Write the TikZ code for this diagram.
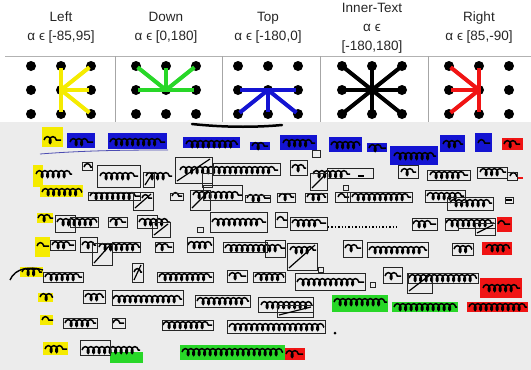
\documentclass[tikz,border=0pt]{standalone}
\usepackage{fontspec}
\setmainfont{Liberation Sans}
\usetikzlibrary{decorations.pathmorphing}

\definecolor{rayyellow}{RGB}{245,235,0}
\definecolor{raygreen}{RGB}{40,215,40}
\definecolor{rayblue}{RGB}{20,20,210}
\definecolor{rayred}{RGB}{240,20,20}
\definecolor{paper}{RGB}{236,236,236}

\tikzset{
    dot/.style={circle, fill=black, inner sep=0pt, minimum size=10pt},
    ray/.style={line width=4pt, shorten >=2pt},
    head/.style={align=center, font=\fontsize{13.5}{19}\selectfont, text=black!85},
    ink/.style={decorate, decoration={coil, amplitude=3.4pt, segment length=5.5pt, aspect=0.6}, line width=1.5pt, black},
    wbox/.style={draw=black!85, line width=0.8pt},
}

\begin{document}
\begin{tikzpicture}[x=1pt, y=-1pt]
    \useasboundingbox (0,0) rectangle (531,370);
    \fill[white] (0,0) rectangle (531,370);
    \node[head] (hL) at (61,28) {Left\\α ϵ [-85,95]};
    \node[head] (hD) at (166,28) {Down\\α ϵ [0,180]};
    \node[head] (hT) at (268,28) {Top\\α ϵ [-180,0]};
    \node[head] (hI) at (372,28) {Inner-Text\\α ϵ\\{[-180,180]}};
    \node[head] (hR) at (479,28) {Right\\α ϵ [85,-90]};
    \draw[gray!60] (5,56) -- (531,56);
    \foreach \x in {115,222,320,428} \draw[gray!70] (\x,56) -- (\x,122);
    \foreach \col/\cx in {L/61,D/166,T/268,I/372,R/479}
      \foreach \i in {0,1,2}
        \foreach \j in {0,1,2}
          \node[dot] (\col\i\j) at ({\cx+(\i-1)*30},{66+\j*24}) {};
    \foreach \i/\j in {1/0,2/0,2/1,2/2,1/2} \draw[ray, rayyellow] (L11.center) -- (L\i\j.center);
    \foreach \i/\j in {0/1,0/0,1/0,2/0,2/1} \draw[ray, raygreen] (D11.center) -- (D\i\j.center);
    \foreach \i/\j in {0/1,0/2,1/2,2/2,2/1} \draw[ray, rayblue] (T11.center) -- (T\i\j.center);
    \foreach \i/\j in {0/0,1/0,2/0,0/1,2/1,0/2,1/2,2/2} \draw[ray, black] (I11.center) -- (I\i\j.center);
    \foreach \i/\j in {1/0,0/0,0/1,0/2,1/2} \draw[ray, rayred] (R11.center) -- (R\i\j.center);
    % manuscript
    \fill[paper] (0,122) rectangle (531,370);
    \foreach \a/\b/\c/\d in {42/127/63/147, 33/165/43/187, 40/185/83/197, 37/213/53/223, 35/237/50/257,
        20/267/43/277, 38/293/53/302, 40/315/53/325, 43/342/68/355}
      \fill[rayyellow] (\a,\b) rectangle (\c,\d);
    \foreach \a/\b/\c/\d in {67/133/95/148, 108/133/167/149, 183/137/240/148, 250/142/270/150, 280/135/317/150,
        329/137/362/152, 367/143/387/152, 390/146/438/165, 440/135/465/152, 475/133/492/152}
      \fill[rayblue] (\a,\b) rectangle (\c,\d);
    \foreach \a/\b/\c/\d in {502/138/523/150, 497/217/512/232, 482/242/512/255, 480/278/522/298,
        467/302/528/312, 285/348/305/360}
      \fill[rayred] (\a,\b) rectangle (\c,\d);
    \foreach \a/\b/\c/\d in {332/295/388/312, 392/302/458/312, 110/352/143/363, 180/345/285/360}
      \fill[raygreen] (\a,\b) rectangle (\c,\d);
    \draw[line width=2.5pt, line cap=round] (192,124) .. controls (230,128) and (260,127) .. (282,125);
    \draw[gray!60!blue, line width=0.8pt] (40,154) .. controls (90,150) and (140,150) .. (168,150);
    \draw[line width=1.4pt] (10,280) .. controls (15,268) and (30,266) .. (43,270);
    \foreach \a/\b/\y in {44/61/140, 70/93/142, 110/165/142, 186/238/144, 252/268/146, 283/315/143,
        331/360/145, 369/386/148, 394/436/156, 443/463/144, 478/490/143, 504/520/144,
        36/72/174, 84/92/167, 100/138/176, 146/172/176, 180/278/170, 292/306/168, 313/350/174,
        401/416/172, 430/468/175, 480/506/172, 510/517/176,
        42/82/192, 90/140/196, 142/152/198, 172/182/196, 193/242/195, 247/270/198, 279/294/197,
        307/326/197, 338/349/197, 352/411/197, 427/464/196, 450/492/203, 506/512/200,
        38/53/218, 57/97/222, 110/126/222, 139/170/222, 212/266/222, 277/287/220, 292/326/223,
        413/436/224, 446/494/223, 498/510/224,
        37/49/246, 52/74/245, 82/96/245, 99/140/247, 156/172/247, 188/212/245, 225/285/248,
        290/316/250, 345/361/248, 369/427/250, 454/472/249, 486/510/248,
        22/42/272, 45/82/277, 134/142/272, 159/212/277, 229/246/276, 255/284/277, 297/364/282,
        385/401/276, 409/477/278, 483/520/288,
        40/53/297, 85/104/297, 113/182/299, 197/249/301, 261/312/305, 334/387/302, 394/457/307,
        469/527/307,
        42/53/320, 65/96/323, 113/124/323, 163/212/325, 229/324/327,
        45/67/349, 82/140/350, 182/283/352, 286/303/354}
      \draw[ink] (\a,\y) -- (\b,\y);
    \draw[dotted, line width=1.4pt] (328,227) -- (398,227);
    \draw[line width=1.4pt] (358,176) -- (364,176);
    \draw[rayred, line width=1.4pt] (517,178) -- (523,178);
    \fill (335,333) circle (1.5);
    \foreach \a/\b/\c/\d in {312/150/320/157,
        82/162/92/170, 97/165/140/187, 143/172/154/187, 175/157/212/183, 202/173/212/187,
        213/163/280/175, 290/160/307/175, 310/173/327/190, 327/168/373/178, 398/165/418/178,
        427/170/470/180, 477/167/507/178, 507/172/517/180,
        88/192/140/200, 133/192/153/210, 170/193/183/200, 190/190/210/210, 203/185/242/200,
        245/195/270/202, 277/193/295/202, 305/193/327/202, 335/192/350/202, 347/192/412/202,
        343/185/348/190, 425/190/465/202, 447/197/493/210, 505/197/513/203,
        55/215/75/232, 70/217/98/227, 108/217/127/227, 137/215/157/228, 152/222/170/237,
        197/227/203/232, 210/212/267/232, 275/212/287/227, 290/217/327/230, 412/218/437/230,
        445/218/458/230, 458/218/495/228, 475/223/495/235,
        50/240/75/250, 80/237/97/252, 92/243/112/265, 112/242/140/252, 155/242/173/252,
        187/237/213/252, 223/242/267/252, 265/240/285/257, 287/243/317/270, 318/267/323/272,
        343/240/362/257, 367/242/428/257, 452/243/473/255,
        43/272/83/282, 132/263/143/282, 157/272/213/282, 227/270/247/282, 253/272/285/282,
        295/273/365/290, 370/282/375/287, 383/267/402/283, 407/273/432/293, 408/273/478/283,
        83/290/105/303, 112/290/183/305, 195/295/250/307, 258/297/313/312, 277/305/313/317,
        63/318/97/328, 112/318/125/328, 162/320/213/330, 227/320/325/333,
        80/340/110/355}
      \draw[wbox] (\a,\b) rectangle (\c,\d);
    \foreach \a/\b/\c/\d in {143/172/154/187, 175/157/212/183, 310/173/327/190, 133/192/153/210,
        190/190/210/210, 152/222/170/237, 92/243/112/265, 287/243/317/270, 407/273/432/293,
        277/305/313/317, 475/223/495/235, 132/263/143/282}
      \draw[line width=1.2pt] ({\a+2},{\d-2}) -- ({\c-2},{\b+2});
\end{tikzpicture}
\end{document}
